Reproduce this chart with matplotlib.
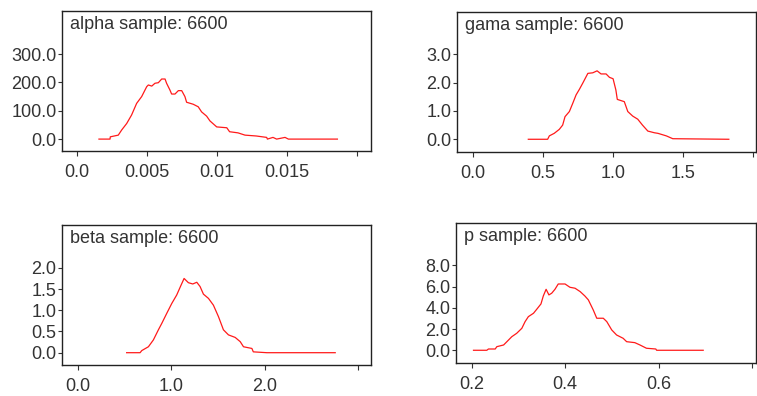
import matplotlib
matplotlib.use("Agg")
import matplotlib.pyplot as plt

plt.rcParams['font.family'] = ['Liberation Sans', 'DejaVu Sans']

# ---- data ----
alpha_x = [0.00157, 0.00236, 0.00238, 0.00295, 0.00319, 0.00355, 0.0039, 0.00426, 0.00462,
           0.00498, 0.0051, 0.00534, 0.00557, 0.00581, 0.00605, 0.00629, 0.0064, 0.00664,
           0.00676, 0.0070, 0.00724, 0.00748, 0.00771, 0.00783, 0.0083, 0.00866, 0.0089,
           0.00926, 0.0095, 0.00998, 0.0107, 0.0109, 0.0115, 0.0120, 0.0128, 0.01355,
           0.0136, 0.0140, 0.01426, 0.01486, 0.0151, 0.0186]
alpha_y = [0, 0, 8, 14, 32, 55, 85, 126, 150, 185, 191, 187, 197, 199, 212, 212, 197, 173,
           159, 159, 171, 171, 150, 130, 123, 114, 96, 81, 64, 43, 40, 26, 22, 14, 11, 6,
           0, 6, 0, 6, 0, 0]

gama_x = [0.395, 0.533, 0.545, 0.58, 0.616, 0.64, 0.657, 0.688, 0.712, 0.736, 0.76, 0.783,
          0.82, 0.855, 0.886, 0.914, 0.95, 0.974, 1.0, 1.02, 1.03, 1.08, 1.105, 1.14, 1.176,
          1.21, 1.248, 1.295, 1.32, 1.38, 1.426, 1.826]
gama_y = [0, 0, 0.12, 0.21, 0.35, 0.5, 0.8, 0.98, 1.27, 1.57, 1.77, 1.98, 2.33, 2.35, 2.42,
          2.31, 2.31, 2.19, 2.14, 1.74, 1.41, 1.33, 0.98, 0.82, 0.71, 0.5, 0.29, 0.23, 0.21,
          0.12, 0.02, 0]

beta_x = [0.524, 0.668, 0.686, 0.757, 0.81, 0.864, 0.9, 0.954, 1.007, 1.06, 1.096, 1.139,
          1.185, 1.232, 1.275, 1.31, 1.346, 1.4, 1.453, 1.507, 1.56, 1.614, 1.686, 1.74,
          1.775, 1.865, 1.88, 2.025, 2.757]
beta_y = [0, 0, 0.05, 0.14, 0.3, 0.54, 0.69, 0.93, 1.16, 1.36, 1.54, 1.75, 1.65, 1.62, 1.66,
          1.56, 1.38, 1.28, 1.12, 0.85, 0.54, 0.42, 0.36, 0.26, 0.14, 0.1, 0.02, 0, 0]

p_x = [0.2035, 0.232, 0.2355, 0.25, 0.2535, 0.268, 0.275, 0.2855, 0.296, 0.307, 0.314, 0.321,
       0.332, 0.339, 0.348, 0.353, 0.359, 0.365, 0.371, 0.378, 0.385, 0.3996, 0.41, 0.421,
       0.432, 0.442, 0.4495, 0.46, 0.4675, 0.4815, 0.489, 0.4995, 0.51, 0.524, 0.5315,
       0.549, 0.56, 0.574, 0.594, 0.5957, 0.6955]
p_y = [0, 0, 0.12, 0.12, 0.34, 0.5, 0.81, 1.28, 1.6, 2.07, 2.7, 3.17, 3.49, 3.87, 4.37, 5.12,
       5.75, 5.22, 5.38, 5.75, 6.25, 6.25, 5.94, 5.85, 5.53, 5.12, 4.75, 3.8, 3.02, 3.02, 2.7,
       1.92, 1.44, 1.13, 0.81, 0.72, 0.5, 0.19, 0.12, 0, 0]

titles = ["alpha sample: 6600", "gama sample: 6600", "beta sample: 6600", "p sample: 6600"]

alpha_xticks = [0.0, 0.005, 0.01, 0.015, 0.02]
alpha_xlabels = ["0.0", "0.005", "0.01", "0.015", ""]
alpha_yticks = [0.0, 100.0, 200.0, 300.0]
gama_xticks = [0.0, 0.5, 1.0, 1.5, 2.0]
gama_xlabels = ["0.0", "0.5", "1.0", "1.5", ""]
gama_yticks = [0.0, 1.0, 2.0, 3.0]
beta_xticks = [0.0, 1.0, 2.0, 3.0]
beta_xlabels = ["0.0", "1.0", "2.0", ""]
beta_yticks = [0.0, 0.5, 1.0, 1.5, 2.0]
p_xticks = [0.2, 0.4, 0.6, 0.8]
p_xlabels = ["0.2", "0.4", "0.6", ""]
p_yticks = [0.0, 2.0, 4.0, 6.0, 8.0]

# ---- figure ----
W, H = 757, 396
fig = plt.figure(figsize=(W / 100, H / 100), dpi=100)


def px_axes(left, top, right, bottom):
    return fig.add_axes([left / W, 1 - bottom / H, (right - left) / W, (bottom - top) / H])


panels = [
    (px_axes(62, 11, 371, 151), alpha_x, alpha_y, titles[0], alpha_xticks, alpha_xlabels,
     alpha_yticks, (-0.00107, 0.0210), (-42, 452)),
    (px_axes(457, 12, 756, 152), gama_x, gama_y, titles[1], gama_xticks, gama_xlabels,
     gama_yticks, (-0.114, 2.02), (-0.45, 4.5)),
    (px_axes(62, 225, 371, 365), beta_x, beta_y, titles[2], beta_xticks, beta_xlabels,
     beta_yticks, (-0.168, 3.14), (-0.29, 3.01)),
    (px_axes(456, 223, 756, 363), p_x, p_y, titles[3], p_xticks, p_xlabels,
     p_yticks, (0.166, 0.8086), (-1.2, 12.0)),
]

tick_color = '#333333'
for ax, xs, ys, title, xt, xl, yt, xlim, ylim in panels:
    ax.plot(xs, ys, color='#ff1a1a', lw=0.9)
    ax.set_xlim(*xlim)
    ax.set_ylim(*ylim)
    ax.set_xticks(xt)
    ax.set_xticklabels(xl)
    ax.set_yticks(yt)
    ax.set_yticklabels(["%.1f" % v for v in yt])
    for s in ax.spines.values():
        s.set_color('#222222')
        s.set_linewidth(1.0)
    ax.tick_params(axis='x', direction='out', length=3.6, width=0.8, pad=5.5,
                   labelsize=13, colors=tick_color)
    ax.tick_params(axis='y', direction='out', length=3.0, width=0.8, pad=1.0,
                   labelsize=13, colors=tick_color)
    ax.annotate(title, xy=(0, 1), xycoords='axes fraction', xytext=(6, -9.4),
                textcoords='offset points', ha='left', va='center', fontsize=13,
                color=tick_color)

fig.savefig("out.png", dpi=100)
